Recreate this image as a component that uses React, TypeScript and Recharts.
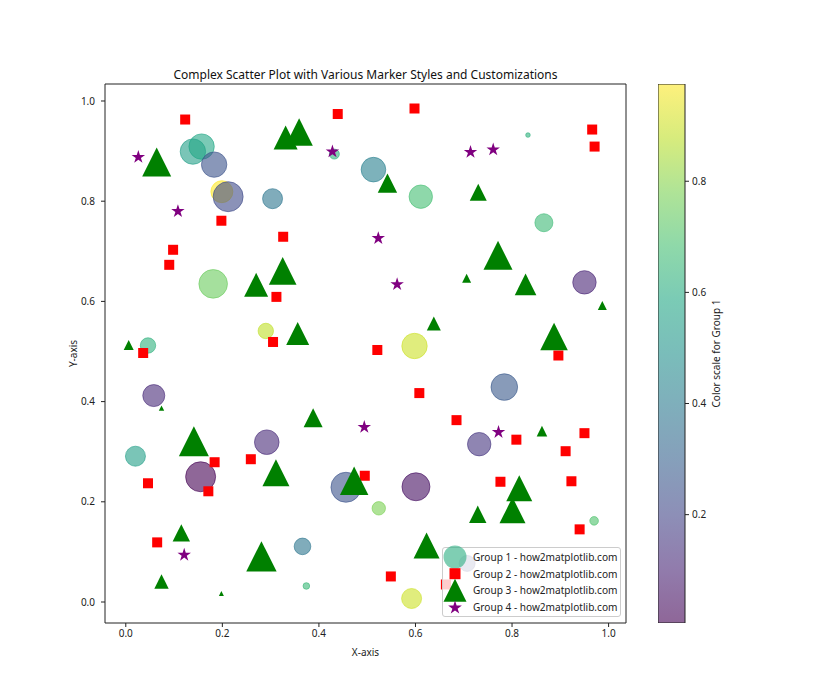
import React from "react";
import {
  ScatterChart,
  BarChart,
  Bar,
  Scatter,
  XAxis,
  YAxis,
  ReferenceArea,
  Legend,
} from "recharts";

// Group 1: circles, size + colour vary
const g1X = [0.139, 0.157, 0.183, 0.199, 0.212, 0.304, 0.432, 0.513, 0.181, 0.290, 0.046, 0.833, 0.611, 0.866, 0.950, 0.598, 0.058, 0.020, 0.155, 0.292, 0.456, 0.366, 0.374, 0.784, 0.732, 0.601, 0.524, 0.970, 0.592, 0.707];
const g1Y = [0.899, 0.909, 0.873, 0.819, 0.809, 0.805, 0.894, 0.863, 0.635, 0.541, 0.512, 0.932, 0.809, 0.757, 0.638, 0.511, 0.412, 0.291, 0.250, 0.319, 0.229, 0.111, 0.032, 0.429, 0.315, 0.230, 0.187, 0.162, 0.007, 0.077];
const g1Size = [645, 645, 645, 484, 900, 400, 100, 605, 818, 237, 237, 21, 548, 324, 548, 645, 484, 400, 900, 605, 900, 276, 44, 708, 548, 784, 180, 74, 400, 256];
const g1Color = [0.55, 0.58, 0.25, 0.975, 0.22, 0.38, 0.62, 0.42, 0.75, 0.88, 0.62, 0.62, 0.68, 0.66, 0.10, 0.90, 0.12, 0.55, 0.005, 0.12, 0.25, 0.38, 0.65, 0.27, 0.15, 0.04, 0.78, 0.70, 0.90, 0.20];

// Group 2: red squares
const g2X = [0.123, 0.439, 0.198, 0.326, 0.098, 0.090, 0.312, 0.305, 0.036, 0.598, 0.966, 0.971, 0.521, 0.896, 0.184, 0.259, 0.046, 0.171, 0.495, 0.065, 0.608, 0.685, 0.809, 0.950, 0.911, 0.776, 0.923, 0.940, 0.549, 0.663];
const g2Y = [0.963, 0.974, 0.761, 0.729, 0.703, 0.673, 0.609, 0.519, 0.497, 0.985, 0.943, 0.909, 0.503, 0.492, 0.279, 0.285, 0.237, 0.221, 0.252, 0.119, 0.417, 0.363, 0.324, 0.337, 0.301, 0.240, 0.241, 0.145, 0.051, 0.035];

// Group 3: green triangles, size varies
const g3X = [0.064, 0.331, 0.359, 0.325, 0.270, 0.356, 0.006, 0.542, 0.730, 0.771, 0.706, 0.828, 0.987, 0.638, 0.887, 0.074, 0.141, 0.388, 0.311, 0.473, 0.115, 0.281, 0.074, 0.198, 0.862, 0.815, 0.801, 0.729, 0.623];
const g3Y = [0.878, 0.927, 0.938, 0.661, 0.633, 0.536, 0.513, 0.836, 0.818, 0.692, 0.646, 0.634, 0.592, 0.556, 0.530, 0.387, 0.321, 0.368, 0.258, 0.242, 0.138, 0.091, 0.041, 0.017, 0.341, 0.227, 0.183, 0.175, 0.113];
const g3Size = [841, 576, 751, 762, 576, 529, 100, 376, 289, 841, 81, 467, 81, 196, 762, 29, 900, 361, 729, 807, 303, 924, 207, 25, 112, 676, 676, 303, 676];

// Group 4: purple stars
const g4X = [0.026, 0.428, 0.108, 0.714, 0.761, 0.523, 0.562, 0.494, 0.121, 0.772];
const g4Y = [0.888, 0.899, 0.780, 0.898, 0.903, 0.726, 0.634, 0.349, 0.094, 0.339];

const seriesNames = [
  "Group 1 - how2matplotlib.com",
  "Group 2 - how2matplotlib.com",
  "Group 3 - how2matplotlib.com",
  "Group 4 - how2matplotlib.com",
];
const axisTicks = [0, 0.2, 0.4, 0.6, 0.8, 1.0];
const colorbarTicks = [0.2, 0.4, 0.6, 0.8];

const SQUARE_S = 100;
const STAR_S = 200;
const FONT = "'Noto Sans', 'Liberation Sans', sans-serif";
const INK = "#222";

const VIRIDIS = ["#440154", "#482475", "#414487", "#355f8d", "#2a788e", "#21918c", "#22a884", "#44bf70", "#7ad151", "#bddf26", "#fde725"];

function hexRgb(h: string) {
  return [1, 3, 5].map((i) => parseInt(h.slice(i, i + 2), 16));
}
function viridis(t: number) {
  const v = Math.max(0, Math.min(1, t)) * 10;
  const i = Math.min(9, Math.floor(v));
  const f = v - i;
  const a = hexRgb(VIRIDIS[i]);
  const b = hexRgb(VIRIDIS[i + 1]);
  const c = a.map((x, k) => Math.round(x + (b[k] - x) * f));
  return `rgb(${c[0]},${c[1]},${c[2]})`;
}

const cMin = Math.min(...g1Color);
const cMax = Math.max(...g1Color);
const cNorm = (c: number) => (c - cMin) / (cMax - cMin);

const allX = [...g1X, ...g2X, ...g3X, ...g4X];
const allY = [...g1Y, ...g2Y, ...g3Y, ...g4Y];
const pad = (arr: number[]) => {
  const lo = Math.min(...arr);
  const hi = Math.max(...arr);
  const m = (hi - lo) * 0.05;
  return [lo - m, hi + m];
};
const xDomain = pad(allX);
const yDomain = pad(allY);

const group1 = g1X.map((x, i) => ({ x, y: g1Y[i], s: g1Size[i], c: g1Color[i] }));
const group2 = g2X.map((x, i) => ({ x, y: g2Y[i], s: SQUARE_S }));
const group3 = g3X.map((x, i) => ({ x, y: g3Y[i], s: g3Size[i] }));
const group4 = g4X.map((x, i) => ({ x, y: g4Y[i], s: STAR_S }));
const colorbarData = [{ name: "cbar", range: [cMin, cMax] }];

// marker half-extent in px, matplotlib style: sqrt(s)/2
const half = (p: any) => Math.sqrt(p.payload?.s ?? 36) / 2;

const starPoints = (cx: number, cy: number, r: number) => {
  const pts: string[] = [];
  for (let k = 0; k < 10; k++) {
    const rr = k % 2 === 0 ? r : r * 0.381966;
    const a = (Math.PI / 2) + (k * Math.PI) / 5;
    pts.push(`${cx + rr * Math.cos(a)},${cy - rr * Math.sin(a)}`);
  }
  return pts.join(" ");
};

const CircleShape = (p: any) => {
  const col = viridis(cNorm(p.payload.c));
  return <circle cx={p.cx} cy={p.cy} r={half(p)} fill={col} fillOpacity={0.6} stroke={col} strokeOpacity={0.6} strokeWidth={1} />;
};
const SquareShape = (p: any) => {
  const h = half(p);
  return <rect x={p.cx - h} y={p.cy - h} width={2 * h} height={2 * h} fill="#ff0000" />;
};
const TriangleShape = (p: any) => {
  const h = half(p);
  return <polygon points={`${p.cx},${p.cy - h} ${p.cx - h},${p.cy + h} ${p.cx + h},${p.cy + h}`} fill="#008000" />;
};
const StarShape = (p: any) => <polygon points={starPoints(p.cx, p.cy, half(p))} fill="#800080" />;

const LegendBox = () => {
  const rows = [10, 26.7, 43.2, 59.8];
  const mx = 13;
  return (
    <div
      style={{
        position: "relative",
        width: 179,
        height: 70,
        boxSizing: "border-box",
        border: "1px solid #cccccc",
        borderRadius: 3,
        background: "rgba(255,255,255,0.8)",
        fontFamily: FONT,
        fontSize: 10.1,
        color: INK,
      }}
    >
      <svg width={179} height={70} style={{ position: "absolute", left: -1, top: -1, overflow: "visible" }}>
        <circle cx={mx} cy={rows[0]} r={11.5} fill={viridis(0.62)} fillOpacity={0.6} />
        <rect x={mx - 5.5} y={rows[1] - 5.5} width={11} height={11} fill="#ff0000" />
        <polygon points={`${mx},${rows[2] - 11.5} ${mx - 11.5},${rows[2] + 11.5} ${mx + 11.5},${rows[2] + 11.5}`} fill="#008000" />
        <polygon points={starPoints(mx, rows[3] + 1, 7.2)} fill="#800080" />
      </svg>
      {seriesNames.map((n, i) => (
        <div key={n} style={{ position: "absolute", left: 30, top: rows[i] - 8, lineHeight: "15px", whiteSpace: "nowrap" }}>
          {n}
        </div>
      ))}
    </div>
  );
};

export default function App() {
  const tick = { fontSize: 10, fill: INK, fontFamily: FONT };
  return (
    <div style={{ position: "absolute", left: 0, top: 0, width: 840, height: 700, background: "#fff", fontFamily: FONT }}>
      <div
        style={{
          position: "absolute",
          left: 105,
          width: 521,
          top: 66,
          textAlign: "center",
          fontSize: 12,
          color: "#111",
          whiteSpace: "nowrap",
        }}
      >
        Complex Scatter Plot with Various Marker Styles and Customizations
      </div>

      <div style={{ position: "absolute", left: 0, top: 0 }}>
        <ScatterChart width={840} height={700} margin={{ top: 84, right: 214, bottom: 37, left: 65 }}>
          <XAxis
            type="number"
            dataKey="x"
            domain={xDomain}
            allowDataOverflow
            ticks={axisTicks}
            tickFormatter={(v: number) => v.toFixed(1)}
            axisLine={false}
            tickSize={4}
            tickMargin={3}
            tickLine={{ stroke: INK }}
            tick={tick}
            height={40}
            label={{ value: "X-axis", position: "insideBottom", offset: 7, fontSize: 10, fill: INK, fontFamily: FONT }}
          />
          <YAxis
            type="number"
            dataKey="y"
            domain={yDomain}
            allowDataOverflow
            ticks={axisTicks}
            tickFormatter={(v: number) => v.toFixed(1)}
            axisLine={false}
            tickSize={4}
            tickMargin={6}
            tickLine={{ stroke: INK }}
            tick={tick}
            width={40}
            label={{ value: "Y-axis", angle: -90, position: "insideLeft", offset: 8, fontSize: 10, fill: INK, fontFamily: FONT, style: { textAnchor: "middle" } }}
          />
          <Scatter name={seriesNames[0]} data={group1} shape={CircleShape} isAnimationActive={false} />
          <Scatter name={seriesNames[1]} data={group2} shape={SquareShape} isAnimationActive={false} />
          <Scatter name={seriesNames[2]} data={group3} shape={TriangleShape} isAnimationActive={false} />
          <Scatter name={seriesNames[3]} data={group4} shape={StarShape} isAnimationActive={false} />
          <ReferenceArea
            x1={xDomain[0]}
            x2={xDomain[1]}
            y1={yDomain[0]}
            y2={yDomain[1]}
            fill="none"
            stroke={INK}
            strokeWidth={1}
            ifOverflow="visible"
          />
          <Legend
            layout="vertical"
            align="center"
            verticalAlign="middle"
            content={() => <LegendBox />}
            wrapperStyle={{ position: "absolute", left: 442, top: 547, width: 179, height: 70 }}
          />
        </ScatterChart>
      </div>

      {/* colourbar */}
      <div style={{ position: "absolute", left: 658, top: 0 }}>
        <BarChart
          width={120}
          height={700}
          data={colorbarData}
          margin={{ top: 84, right: 43, bottom: 77, left: 0 }}
          barCategoryGap={0}
        >
          <defs>
            <linearGradient id="cbar" x1="0" y1="1" x2="0" y2="0">
              {VIRIDIS.map((c, i) => (
                <stop key={i} offset={i / 10} stopColor={c} stopOpacity={0.6} />
              ))}
            </linearGradient>
          </defs>
          <XAxis type="category" dataKey="name" hide />
          <YAxis
            type="number"
            orientation="right"
            domain={[cMin, cMax]}
            allowDataOverflow
            ticks={colorbarTicks}
            tickFormatter={(v: number) => v.toFixed(1)}
            axisLine={false}
            tickSize={4}
            tickMargin={3}
            tickLine={{ stroke: INK }}
            tick={tick}
            width={50}
            label={{ value: "Color scale for Group 1", angle: -90, position: "insideLeft", offset: 31, fontSize: 10, fill: INK, fontFamily: FONT, style: { textAnchor: "middle" } }}
          />
          <Bar dataKey="range" fill="url(#cbar)" stroke={INK} strokeWidth={1} isAnimationActive={false} />
        </BarChart>
      </div>
    </div>
  );
}
